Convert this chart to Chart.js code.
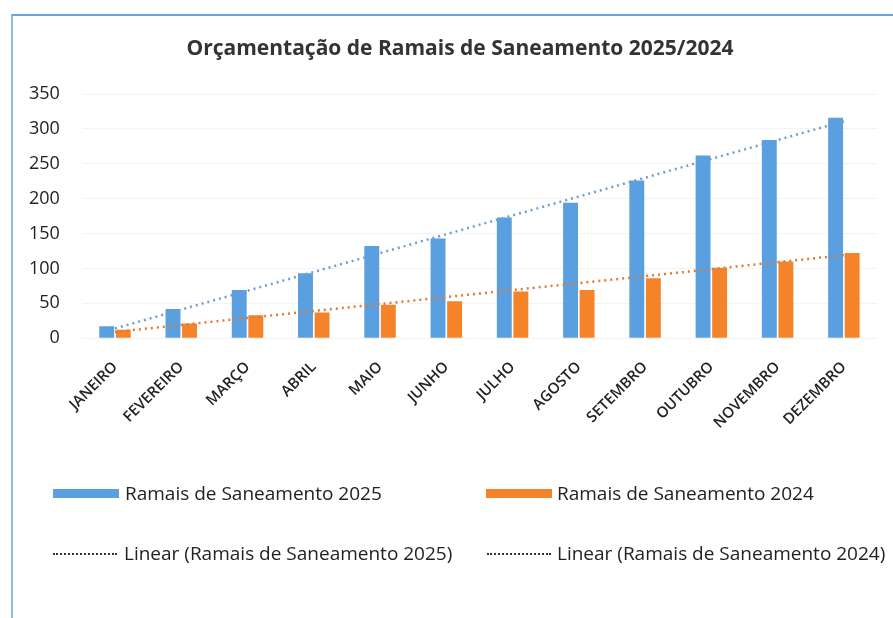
<!DOCTYPE html>
<html>
<head>
<meta charset="utf-8">
<script src="https://cdn.jsdelivr.net/npm/chart.js@4/dist/chart.umd.min.js"></script>
<style>
  html, body { margin: 0; padding: 0; background: #fff; }
  #wrap { position: relative; width: 893px; height: 618px; overflow: hidden; font-family: "Open Sans", sans-serif; }
  #frame { position: absolute; left: 11px; top: 14px; width: 900px; height: 620px;
           border-left: 2px solid #8dbbe8; border-top: 2px solid #6aa3dc; }
  #chart { position: absolute; left: 0; top: 0; }
  #title { position: absolute; left: 160px; width: 600px; top: 34px; text-align: center;
           font-size: 21px; font-weight: bold; color: #333; line-height: 26px; }
  .leg { position: absolute; font-size: 19px; color: #222; white-space: nowrap; line-height: 22px; }
  .sw { position: absolute; height: 9px; width: 66px; }
  .dots { position: absolute; width: 64px; height: 0; border-top: 2px dotted #333; }
</style>
</head>
<body>
<div id="wrap">
  <div id="frame"></div>
  <canvas id="chart" width="893" height="618"></canvas>
  <div id="title">Orçamentação de Ramais de Saneamento 2025/2024</div>
  <div class="sw" style="left:53px; top:489px; background:#5a9fe0;"></div>
  <div class="leg" style="left:125px; top:482px;">Ramais de Saneamento 2025</div>
  <div class="sw" style="left:486px; top:489px; background:#f5832a;"></div>
  <div class="leg" style="left:557px; top:482px;">Ramais de Saneamento 2024</div>
  <div class="dots" style="left:53px; top:553px;"></div>
  <div class="leg" style="left:124px; top:542px;">Linear (Ramais de Saneamento 2025)</div>
  <div class="dots" style="left:487px; top:553px;"></div>
  <div class="leg" style="left:557px; top:542px;">Linear (Ramais de Saneamento 2024)</div>
</div>
<script>
const months = ["JANEIRO", "FEVEREIRO", "MARÇO", "ABRIL", "MAIO", "JUNHO",
                "JULHO", "AGOSTO", "SETEMBRO", "OUTUBRO", "NOVEMBRO", "DEZEMBRO"];
const ramais2025 = [17, 42, 69, 93, 132, 143, 173, 194, 226, 262, 284, 316];
const ramais2024 = [12, 21, 33, 37, 48, 53, 67, 69, 86, 101, 110, 122];
// trend line ends (Jan and Dec)
const trend2025 = [14, null, null, null, null, null, null, null, null, null, null, 311];
const trend2024 = [9, null, null, null, null, null, null, null, null, null, null, 119];
const yTicks = [0, 50, 100, 150, 200, 250, 300, 350];

const ctx = document.getElementById("chart").getContext("2d");
new Chart(ctx, {
  type: "bar",
  data: {
    labels: months,
    datasets: [
      {
        label: "Ramais de Saneamento 2025",
        data: ramais2025,
        backgroundColor: "#5a9fe0",
        barPercentage: 0.9,
        categoryPercentage: 0.5,
        order: 2
      },
      {
        label: "Ramais de Saneamento 2024",
        data: ramais2024,
        backgroundColor: "#f5832a",
        barPercentage: 0.9,
        categoryPercentage: 0.5,
        order: 2
      },
      {
        type: "line",
        label: "Linear (Ramais de Saneamento 2025)",
        data: trend2025,
        borderColor: "#6f9fd0",
        borderWidth: 2.5,
        borderDash: [2, 4],
        pointRadius: 0,
        spanGaps: true,
        order: 0
      },
      {
        type: "line",
        label: "Linear (Ramais de Saneamento 2024)",
        data: trend2024,
        borderColor: "#e07a38",
        borderWidth: 2.5,
        borderDash: [2, 4],
        pointRadius: 0,
        spanGaps: true,
        order: 0
      }
    ]
  },
  options: {
    responsive: false,
    animation: false,
    layout: { padding: { top: 94, left: 7, right: 16, bottom: 174 } },
    plugins: {
      legend: { display: false },
      tooltip: { enabled: false }
    },
    scales: {
      x: {
        grid: { display: false },
        border: { display: false },
        ticks: {
          color: "#222",
          font: { family: "Open Sans", size: 15, weight: "600" },
          minRotation: 45,
          maxRotation: 45,
          padding: 12
        }
      },
      y: {
        min: 0,
        max: 350,
        afterBuildTicks: axis => { axis.ticks = yTicks.map(v => ({ value: v })); },
        grid: { color: "#f3f3f3", drawTicks: false },
        border: { display: false },
        ticks: {
          color: "#222",
          font: { family: "Open Sans", size: 18 },
          padding: 22
        }
      }
    }
  }
});
</script>
</body>
</html>
